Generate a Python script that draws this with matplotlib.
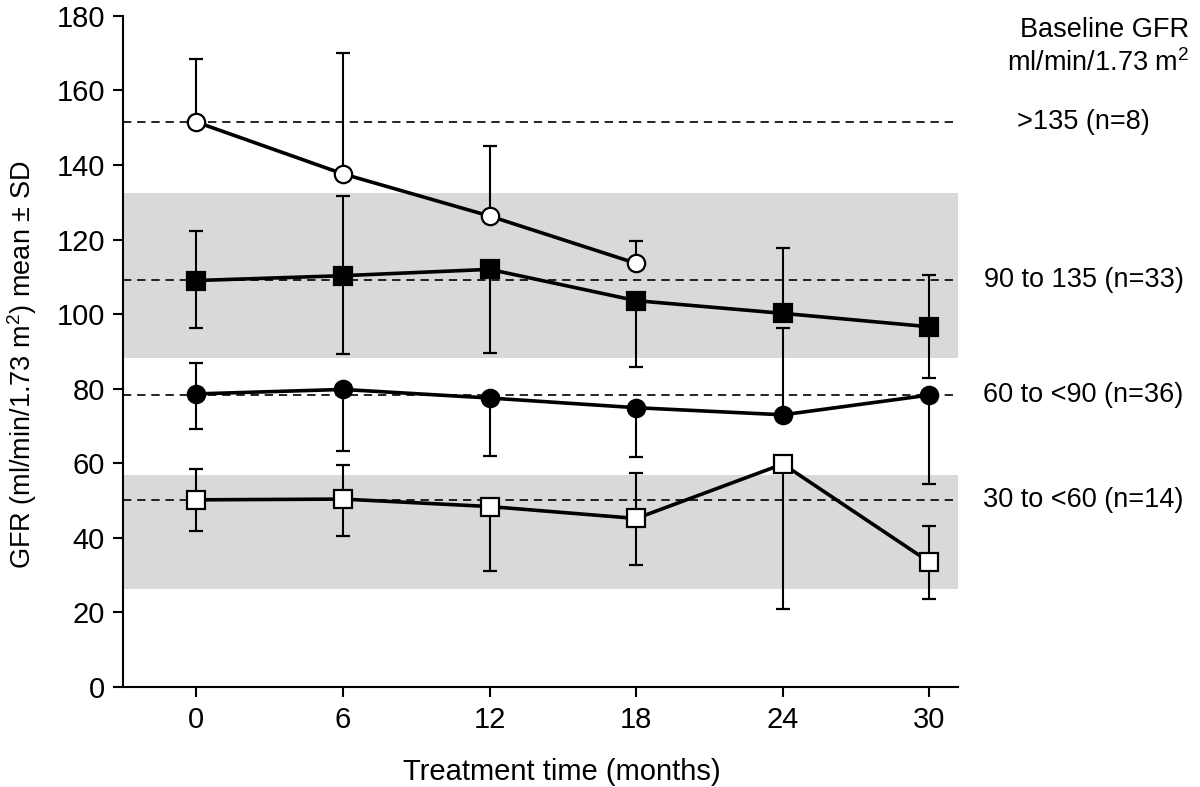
import numpy as np
import matplotlib
matplotlib.use("Agg")
import matplotlib.pyplot as plt
from matplotlib import rc
from matplotlib.transforms import blended_transform_factory

rc('mathtext', default='regular')
plt.rcParams['font.family'] = ['Liberation Sans', 'DejaVu Sans']

# treatment time (months)
months = [0, 6, 12, 18, 24, 30]

# baseline GFR >135 (n=8), only followed to 18 months
gfr_high = [151.5, 137.6, 126.3, 113.6]
gfr_high_up = [168.5, 170.0, 145.0, 119.7]
gfr_high_lo = [np.nan, np.nan, np.nan, np.nan]

# 90 to 135 (n=33)
gfr_mid = [109.0, 110.3, 112.0, 103.6, 100.2, 96.6]
gfr_mid_up = [122.3, 131.8, np.nan, np.nan, 117.6, 110.4]
gfr_mid_lo = [96.3, 89.3, 89.6, 85.8, np.nan, 83.0]

# 60 to <90 (n=36)
gfr_low = [78.6, 79.8, 77.5, 74.9, 73.0, 78.3]
gfr_low_up = [86.9, np.nan, np.nan, np.nan, 96.3, np.nan]
gfr_low_lo = [69.2, 63.3, 62.0, 61.7, np.nan, 54.5]

# 30 to <60 (n=14)
gfr_vlow = [50.2, 50.4, 48.4, 45.2, 59.8, 33.5]
gfr_vlow_up = [58.5, 59.5, np.nan, 57.5, np.nan, 43.2]
gfr_vlow_lo = [41.8, 40.5, 31.2, 32.6, 20.9, 23.6]

# baseline means (dashed lines) and shaded ranges
baseline = [151.6, 109.1, 78.2, 50.2]
bands = [(88.2, 132.6), (26.2, 56.9)]
group_labels = [">135 (n=8)", "90 to 135 (n=33)", "60 to <90 (n=36)", "30 to <60 (n=14)"]

fig = plt.figure(figsize=(12, 7.87), dpi=100)
ax = fig.add_axes([0.1025, 0.127, 0.6955, 0.853])

for lo, hi in bands:
    ax.axhspan(lo, hi, color='#d9d9d9', lw=0, zorder=0)

for b in baseline:
    ax.axhline(b, color='black', lw=1.2, ls=(0, (5, 3.5)), zorder=1)


def draw_group(y, up, lo, marker, face):
    x = np.array(months[:len(y)], dtype=float)
    y = np.array(y)
    up = np.array(up)
    lo = np.array(lo)
    # upper and lower bars separately, some are hidden in the original
    m = ~np.isnan(up)
    if m.any():
        ax.errorbar(x[m], y[m], yerr=[np.zeros(m.sum()), up[m] - y[m]], fmt='none',
                    ecolor='black', elinewidth=1.5, capsize=5, capthick=1.6, zorder=2)
    m = ~np.isnan(lo)
    if m.any():
        ax.errorbar(x[m], y[m], yerr=[y[m] - lo[m], np.zeros(m.sum())], fmt='none',
                    ecolor='black', elinewidth=1.5, capsize=5, capthick=1.6, zorder=2)
    ax.plot(x, y, color='black', lw=2.6, marker=marker, markersize=12.5,
            markerfacecolor=face, markeredgecolor='black', markeredgewidth=1.6, zorder=3)


draw_group(gfr_high, gfr_high_up, gfr_high_lo, 'o', 'white')
draw_group(gfr_mid, gfr_mid_up, gfr_mid_lo, 's', 'black')
draw_group(gfr_low, gfr_low_up, gfr_low_lo, 'o', 'black')
draw_group(gfr_vlow, gfr_vlow_up, gfr_vlow_lo, 's', 'white')

ax.set_xlim(-3.0, 31.15)
ax.set_ylim(0, 180)
ax.set_xticks(months)
ax.set_yticks(range(0, 181, 20))
ax.spines['top'].set_visible(False)
ax.spines['right'].set_visible(False)
for s in ['left', 'bottom']:
    ax.spines[s].set_linewidth(1.5)
ax.tick_params(axis='both', direction='out', length=7, width=1.5, labelsize=21)
ax.tick_params(axis='y', pad=6)
ax.tick_params(axis='x', pad=7)

# right-hand group labels
tr = blended_transform_factory(fig.transFigure, ax.transData)
for b, lab in zip(baseline, group_labels):
    ax.text(0.903, b, lab, transform=tr, ha='center', va='center', fontsize=19.5, clip_on=False)

fig.text(0.991, 1 - 30 / 787, "Baseline GFR", ha='right', va='center', fontsize=19.5)
fig.text(0.991, 1 - 63 / 787, "ml/min/1.73 m$^2$", ha='right', va='center', fontsize=19.5)

fig.text(562 / 1200, 1 - 772 / 787, "Treatment time (months)", ha='center', va='center', fontsize=21)
fig.text(22 / 1200, 1 - 365 / 787, "GFR (ml/min/1.73 m$^2$) mean \u00b1 SD", rotation=90,
         ha='center', va='center', fontsize=19.5)

fig.savefig("out.png", dpi=100)
